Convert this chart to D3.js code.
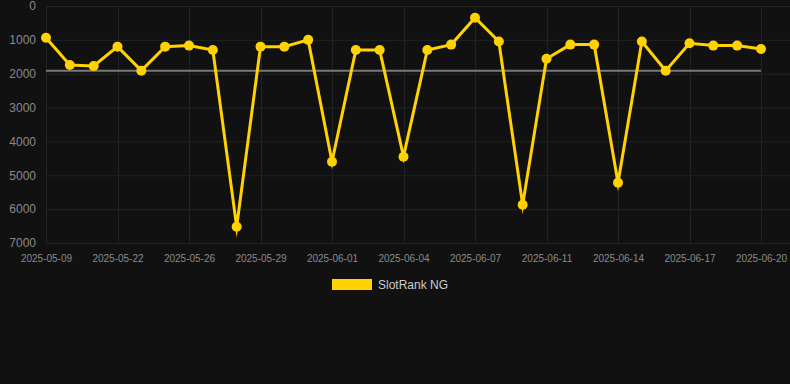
<!DOCTYPE html>
<html>
<head>
<meta charset="utf-8">
<script src="https://cdn.jsdelivr.net/npm/d3@7"></script>
<style>
  html, body { margin: 0; padding: 0; background: #111111; }
  svg { display: block; font-family: "Liberation Sans", Arial, sans-serif; }
  .grid line { stroke: #232323; stroke-width: 1; }
  .axis text { fill: #8a8a8a; }
  .axis path, .axis line { display: none; }
</style>
</head>
<body>
<svg id="chart" width="790" height="384"></svg>
<script>
//

const dates = [
  '2025-05-09', '2025-05-20', '2025-05-21', '2025-05-22', '2025-05-23', '2025-05-24',
  '2025-05-26', '2025-05-27', '2025-05-28', '2025-05-29', '2025-05-30', '2025-05-31',
  '2025-06-01', '2025-06-02', '2025-06-03', '2025-06-04', '2025-06-05', '2025-06-06',
  '2025-06-07', '2025-06-08', '2025-06-10', '2025-06-11', '2025-06-12', '2025-06-13',
  '2025-06-14', '2025-06-15', '2025-06-16', '2025-06-17', '2025-06-18', '2025-06-19',
  '2025-06-20'
]
const ranks = [
  940, 1740, 1770, 1200, 1910, 1200,
  1170, 1300, 6520, 1200, 1200, 1000,
  4600, 1300, 1300, 4450, 1300, 1140,
  345, 1050, 5870, 1560, 1140, 1140,
  5220, 1050, 1910, 1100, 1170, 1170,
  1270
]
const yTicks = [0, 1000, 2000, 3000, 4000, 5000, 6000, 7000]
const seriesName = 'SlotRank NG'

//

const lineColor = '#ffd200'
const svg = d3.select('#chart')

const x = d3.scalePoint()
  .domain(dates)
  .range([46, 761])

const y = d3.scaleLinear()
  .domain([0, 7000])
  .range([6, 243])

const labelled = dates.filter((d, i) => i % 3 === 0)

// grid
const grid = svg.append('g').attr('class', 'grid')
grid.selectAll('.h')
  .data(yTicks)
  .enter().append('line')
  .attr('x1', 46).attr('x2', 790)
  .attr('y1', (d) => y(d) + 0.5).attr('y2', (d) => y(d) + 0.5)
grid.selectAll('.v')
  .data(labelled)
  .enter().append('line')
  .attr('x1', (d) => Math.round(x(d)) + 0.5).attr('x2', (d) => Math.round(x(d)) + 0.5)
  .attr('y1', 6).attr('y2', 243)

// axes
svg.append('g')
  .attr('class', 'axis')
  .attr('transform', 'translate(46,0)')
  .call(d3.axisLeft(y).tickValues(yTicks).tickSize(0).tickPadding(10).tickFormat(d3.format('d')))
  .selectAll('text')
  .style('font-size', '12px')

svg.append('g')
  .attr('class', 'axis')
  .attr('transform', 'translate(0,243)')
  .call(d3.axisBottom(x).tickValues(labelled).tickSize(0).tickPadding(12))
  .selectAll('text')
  .style('font-size', '10px')

// mean line
const avg = d3.mean(ranks)
svg.append('line')
  .attr('x1', x(dates[0])).attr('x2', x(dates[dates.length - 1]))
  .attr('y1', y(avg)).attr('y2', y(avg))
  .attr('stroke', '#7a7a7a')
  .attr('stroke-width', 2)

// series
const line = d3.line()
  .x((d, i) => x(dates[i]))
  .y((d) => y(d))

svg.append('path')
  .datum(ranks)
  .attr('d', line)
  .attr('fill', 'none')
  .attr('stroke', lineColor)
  .attr('stroke-width', 3)
  .attr('stroke-linejoin', 'miter')
  .attr('stroke-miterlimit', 10)

svg.append('g')
  .selectAll('circle')
  .data(ranks)
  .enter().append('circle')
  .attr('cx', (d, i) => x(dates[i]))
  .attr('cy', (d) => y(d))
  .attr('r', 5)
  .attr('fill', lineColor)

// legend
const legend = svg.append('g').attr('transform', 'translate(332,279)')
legend.append('rect')
  .attr('width', 40).attr('height', 11)
  .attr('fill', lineColor)
legend.append('text')
  .attr('x', 46).attr('y', 10)
  .attr('fill', '#cccccc')
  .style('font-size', '12px')
  .text(seriesName)
</script>
</body>
</html>
